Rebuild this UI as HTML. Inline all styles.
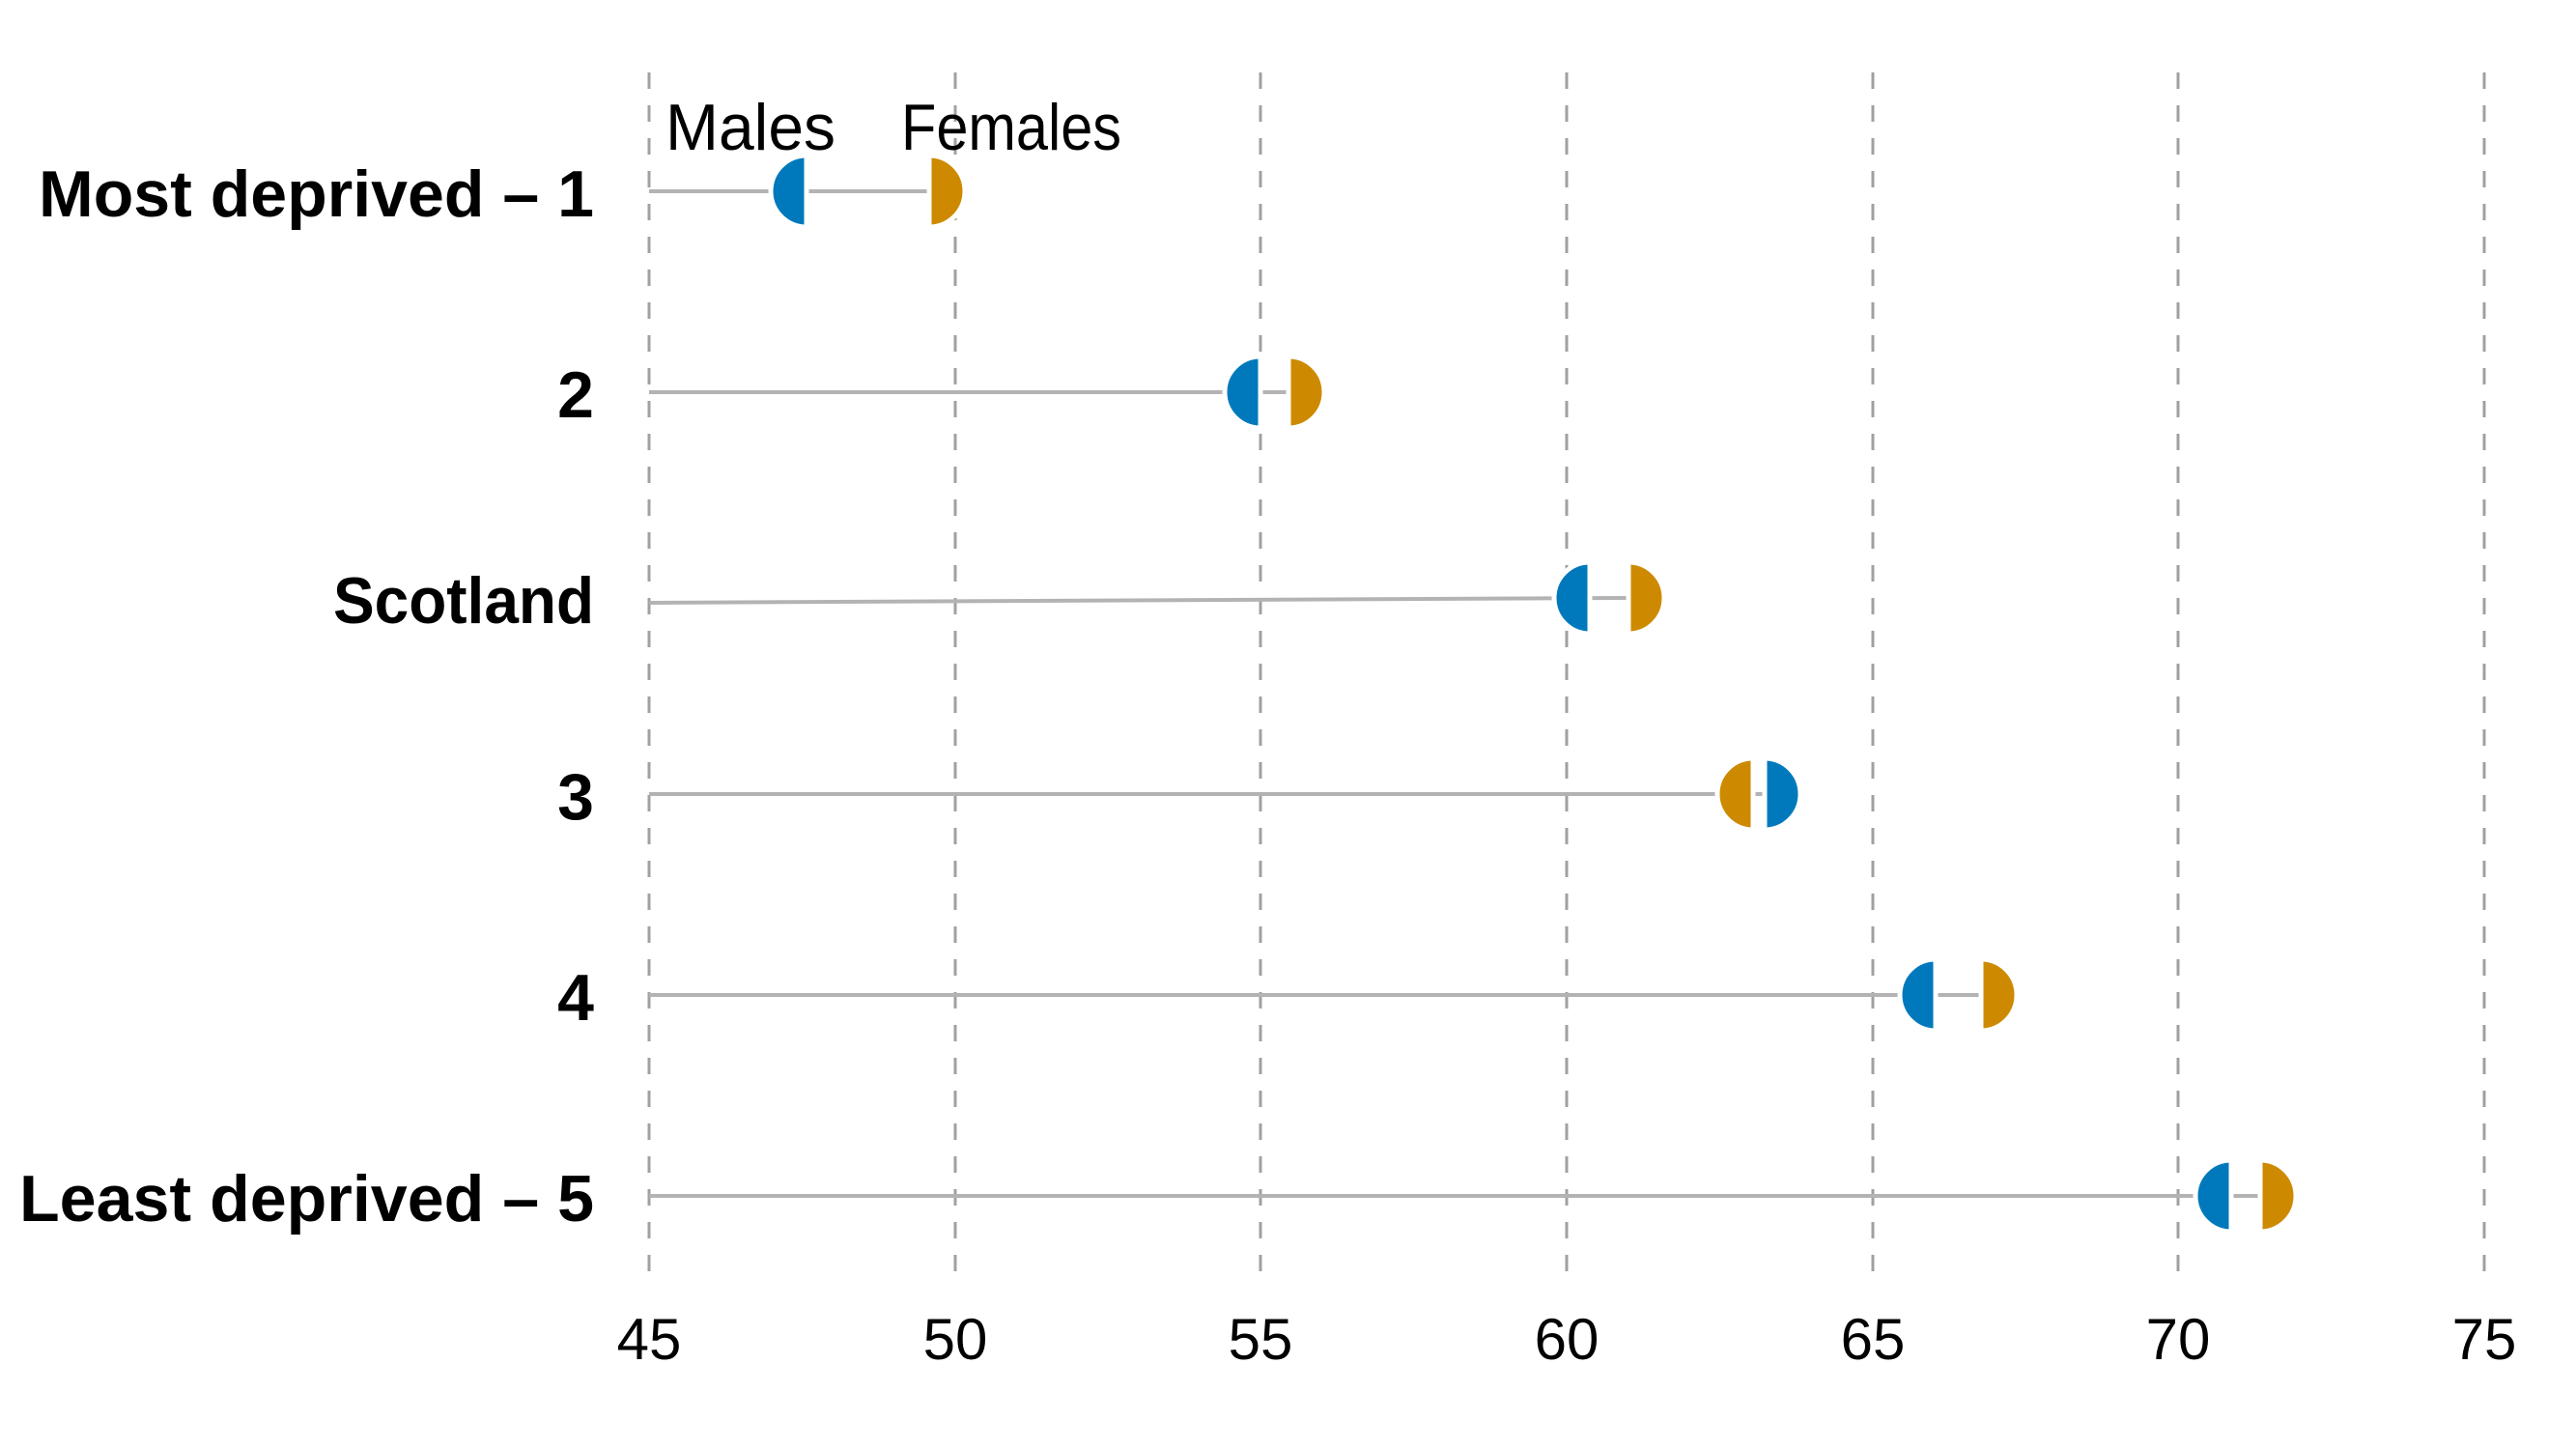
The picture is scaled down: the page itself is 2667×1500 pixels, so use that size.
<!DOCTYPE html>
<html><head><meta charset="utf-8"><style>html,body{margin:0;padding:0;background:#fff}svg{display:block}</style></head>
<body>
<svg width="2667" height="1500" viewBox="0 0 2667 1500" xmlns="http://www.w3.org/2000/svg" font-family="Liberation Sans, sans-serif">
<g stroke="#a0a0a0" stroke-width="3" stroke-dasharray="17,17">
<line x1="672" y1="75" x2="672" y2="1330"/>
<line x1="989" y1="75" x2="989" y2="1330"/>
<line x1="1305" y1="75" x2="1305" y2="1330"/>
<line x1="1622" y1="75" x2="1622" y2="1330"/>
<line x1="1939" y1="75" x2="1939" y2="1330"/>
<line x1="2255" y1="75" x2="2255" y2="1330"/>
<line x1="2572" y1="75" x2="2572" y2="1330"/>
</g>
<g font-size="60" text-anchor="middle" fill="#000">
<text x="672" y="1407">45</text><text x="989" y="1407">50</text><text x="1305" y="1407">55</text>
<text x="1622" y="1407">60</text><text x="1939" y="1407">65</text><text x="2255" y="1407">70</text><text x="2572" y="1407">75</text>
</g>
<g font-size="68" font-weight="bold" text-anchor="end" fill="#000">
<text x="615" y="224" textLength="575" lengthAdjust="spacingAndGlyphs">Most deprived – 1</text>
<text x="615" y="432">2</text>
<text x="615" y="645" textLength="270" lengthAdjust="spacingAndGlyphs">Scotland</text>
<text x="615" y="848">3</text>
<text x="615" y="1056">4</text>
<text x="615" y="1264" textLength="595" lengthAdjust="spacingAndGlyphs">Least deprived – 5</text>
</g>
<text x="689" y="155" font-size="68" textLength="176" lengthAdjust="spacingAndGlyphs">Males</text>
<text x="933" y="155" font-size="68" textLength="228" lengthAdjust="spacingAndGlyphs">Females</text>
<g stroke="#b3b3b3" stroke-width="4">
<line x1="672" y1="198" x2="962" y2="198"/>
<line x1="672" y1="406" x2="1334" y2="406"/>
<line x1="672" y1="624" x2="1686" y2="619"/>
<line x1="672" y1="822" x2="1827" y2="822"/>
<line x1="672" y1="1030" x2="2051" y2="1030"/>
<line x1="672" y1="1238" x2="2340" y2="1238"/>
</g>
<g stroke="#fff" stroke-width="5">
<path d="M835,161 A37,37 0 0 0 835,235 Z" fill="#0079bc"/>
<path d="M962,161 A37,37 0 0 1 962,235 Z" fill="#cd8a00"/>
<path d="M1305,369 A37,37 0 0 0 1305,443 Z" fill="#0079bc"/>
<path d="M1334,369 A37,37 0 0 1 1334,443 Z" fill="#cd8a00"/>
<path d="M1646,582 A37,37 0 0 0 1646,656 Z" fill="#0079bc"/>
<path d="M1686,582 A37,37 0 0 1 1686,656 Z" fill="#cd8a00"/>
<path d="M1815,785 A37,37 0 0 0 1815,859 Z" fill="#cd8a00"/>
<path d="M1827,785 A37,37 0 0 1 1827,859 Z" fill="#0079bc"/>
<path d="M2004,993 A37,37 0 0 0 2004,1067 Z" fill="#0079bc"/>
<path d="M2051,993 A37,37 0 0 1 2051,1067 Z" fill="#cd8a00"/>
<path d="M2310,1201 A37,37 0 0 0 2310,1275 Z" fill="#0079bc"/>
<path d="M2340,1201 A37,37 0 0 1 2340,1275 Z" fill="#cd8a00"/>
</g>
</svg>
</body></html>
